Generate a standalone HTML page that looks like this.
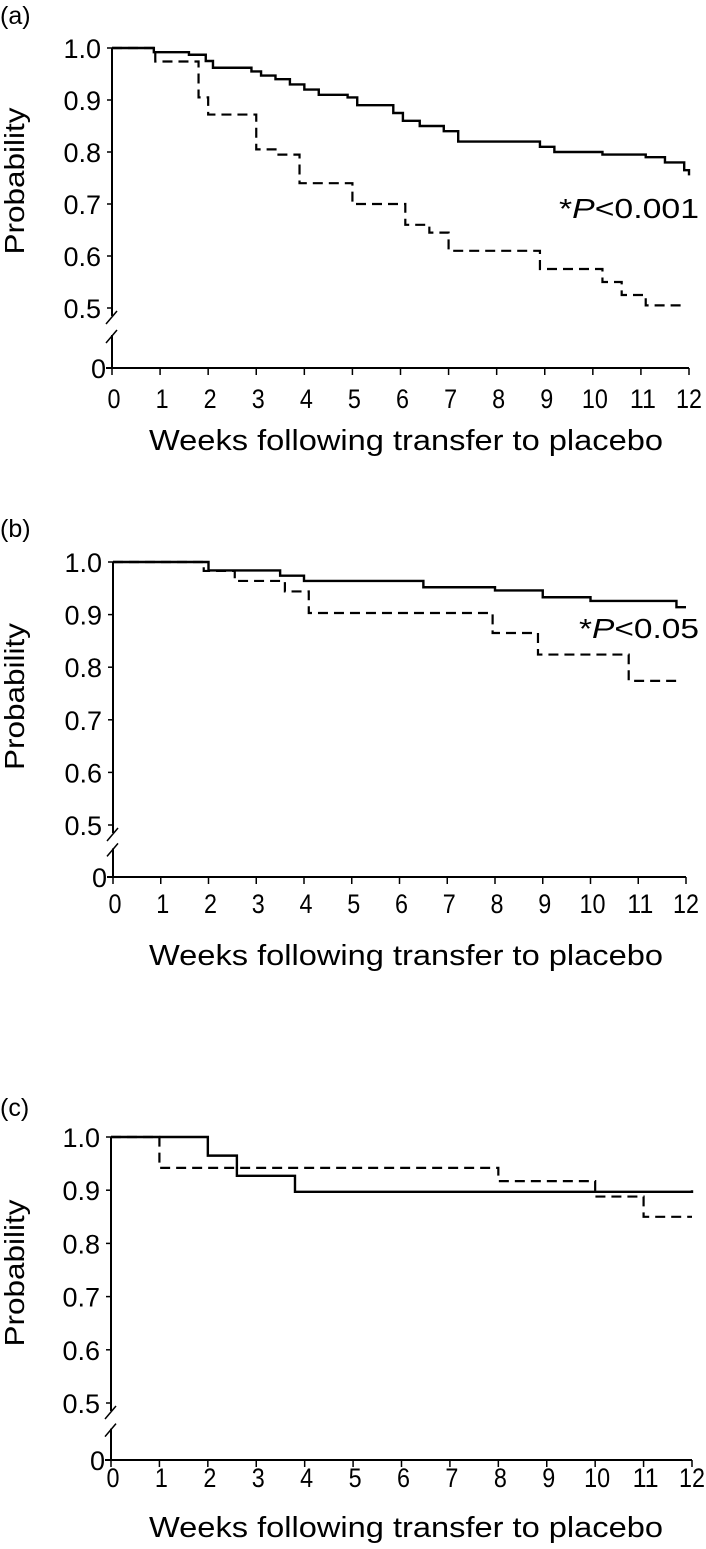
<!DOCTYPE html>
<html><head><meta charset="utf-8"><style>
html,body{margin:0;padding:0;background:#fff;}
svg{display:block;font-family:"Liberation Sans",Arial,sans-serif;}
</style></head><body>
<svg id="chart" width="706" height="1549" viewBox="0 0 706 1549" xmlns="http://www.w3.org/2000/svg"></svg>
<script>
// ---- data ----
const weekTicks = [0,1,2,3,4,5,6,7,8,9,10,11,12];
const probTicks = [1.0,0.9,0.8,0.7,0.6,0.5];
const probTickLabels = ["1.0","0.9","0.8","0.7","0.6","0.5"];
const panelLabels = ["(a)","(b)","(c)"];
const pLabels = ["P<0.001","P<0.05",""];

const aSolidT = [0,0.87,1.6,1.95,2.1,2.9,3.1,3.4,3.7,4.0,4.3,4.9,5.1,5.85,6.05,6.4,6.9,7.2,8.9,9.2,10.2,11.1,11.5,11.9,12];
const aSolidS = [1.0,0.992,0.987,0.975,0.962,0.955,0.947,0.94,0.93,0.92,0.91,0.905,0.89,0.875,0.86,0.85,0.84,0.82,0.81,0.8,0.795,0.79,0.78,0.765,0.755];
const aDashT = [0,0.9,1.8,2.0,3.0,3.4,3.9,5.0,6.1,6.6,7.0,8.9,10.2,10.6,11.1,11.9];
const aDashS = [1.0,0.974,0.905,0.872,0.805,0.795,0.74,0.70,0.66,0.645,0.61,0.575,0.55,0.525,0.505,0.505];

const bSolidT = [0,2.0,3.5,4.0,6.5,8.0,9.0,10.0,11.8,12];
const bSolidS = [1.0,0.984,0.974,0.964,0.952,0.946,0.933,0.926,0.914,0.914];
const bDashT = [0,1.9,2.55,3.6,4.1,7.95,8.9,10.8,11.8];
const bDashS = [1.0,0.983,0.964,0.944,0.903,0.865,0.824,0.774,0.774];

const cSolidT = [0,2.0,2.6,3.8,12];
const cSolidS = [1.0,0.965,0.927,0.897,0.9];
const cDashT = [0,1.0,8.0,10.0,11.0,12];
const cDashS = [1.0,0.942,0.917,0.888,0.85,0.85];

// ---- layout ----
const panels = [
  {x0:112,x1:689,y1:48,y5:308,y0:368,lab:15,tl:398,title:440,p:[559,208,140],solid:[aSolidT,aSolidS],dash:[aDashT,aDashS]},
  {x0:113,x1:686,y1:562,y5:825,y0:877,lab:528,tl:903,title:955,p:[579,628,120],solid:[bSolidT,bSolidS],dash:[bDashT,bDashS]},
  {x0:111,x1:692,y1:1137,y5:1403,y0:1460,lab:1107,tl:1477,title:1527,p:null,solid:[cSolidT,cSolidS],dash:[cDashT,cDashS]}
];
const NS="http://www.w3.org/2000/svg";
const svg=document.getElementById('chart');
function mk(tag,attrs,parent){const e=document.createElementNS(NS,tag);for(const k in attrs)e.setAttribute(k,attrs[k]);(parent||svg).appendChild(e);return e;}

panels.forEach((P,i)=>{
  const g=mk('g',{});
  
  
  const xs=t=>P.x0+(P.x1-P.x0)*t/12;
  const ys=v=>P.y1+(P.y5-P.y1)*(1-v)/0.5;
  const pl=mk('text',{x:0,y:P.lab+9,'font-size':25},g);pl.textContent=panelLabels[i];
  
  
  const gapTop=P.y5+8, gapBot=P.y5+(P.y0-P.y5)*0.45;
  const ya=mk('line',{x1:P.x0,y1:P.y1,x2:P.x0,y2:gapTop,stroke:'#000','stroke-width':2},g);
  
  
  mk('line',{x1:P.x0,y1:gapBot,x2:P.x0,y2:P.y0,stroke:'#000','stroke-width':2},g);
  mk('line',{x1:P.x0-6,y1:gapTop+8,x2:P.x0+5,y2:gapTop-5,stroke:'#000','stroke-width':1.5},g);
  mk('line',{x1:P.x0-6,y1:gapBot+8,x2:P.x0+5,y2:gapBot-5,stroke:'#000','stroke-width':1.5},g);
  const xa=mk('line',{x1:P.x0-6,y1:P.y0,x2:P.x1,y2:P.y0,stroke:'#000','stroke-width':2},g);
  
  
  probTicks.forEach((v,k)=>{
    mk('line',{x1:P.x0-5,y1:ys(v),x2:P.x0,y2:ys(v),stroke:'#000','stroke-width':1.5},g);
    const t=mk('text',{x:P.x0-11,y:ys(v)+10,'font-size':27,'text-anchor':'end'},g);t.textContent=probTickLabels[k];
    
    
  });
  const z=mk('text',{x:P.x0-6,y:P.y0+10,'font-size':27,'text-anchor':'end'},g);z.textContent='0';
  weekTicks.forEach(w=>{
    mk('line',{x1:xs(w),y1:P.y0,x2:xs(w),y2:P.y0+7,stroke:'#000','stroke-width':1.5},g);
    const s=String(w);
    const t=mk('text',{x:xs(w)+(w===12?0:2),y:P.tl+10,'font-size':27,'text-anchor':'middle',textLength:s.length*13,lengthAdjust:'spacingAndGlyphs'},g);t.textContent=s;
    
    
  });
  const yt=mk('text',{x:0,y:0,'font-size':28,'text-anchor':'middle',textLength:147,lengthAdjust:'spacingAndGlyphs',transform:`translate(24,${(P.y1+P.y5)/2+3}) rotate(-90)`},g);
  yt.textContent='Probability';
  
  
  const xt=mk('text',{x:406,y:P.title+10,'font-size':29,'text-anchor':'middle',textLength:514,lengthAdjust:'spacingAndGlyphs'},g);
  xt.textContent='Weeks following transfer to placebo';
  
  
  if(P.p){
    const pt=mk('text',{x:P.p[0],y:P.p[1]+10,'font-size':28,textLength:P.p[2],lengthAdjust:'spacingAndGlyphs'},g);
    pt.innerHTML='*<tspan font-style="italic">P</tspan>'+pLabels[i].slice(1).replace('<','&lt;');
    
    
  }
  function step(T,S){let d=`M${xs(T[0])},${ys(S[0])}`;for(let k=1;k<T.length;k++){d+=` H${xs(T[k])} V${ys(S[k])}`;}return d;}
  const dl=mk('path',{d:step(P.dash[0],P.dash[1]),fill:'none',stroke:'#000','stroke-width':2.2,'stroke-dasharray':'10,6'},g);
  
  
  const sl=mk('path',{d:step(P.solid[0],P.solid[1]),fill:'none',stroke:'#000','stroke-width':2.4},g);
  
  
});
</script>
</body></html>
